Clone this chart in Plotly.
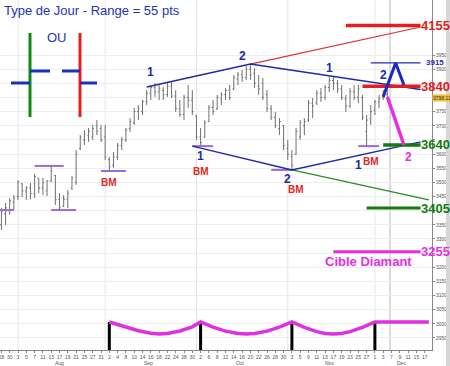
import plotly.graph_objects as go
import pandas as pd

# ---------------- data ----------------
all_dates = [d.strftime("%Y-%m-%d") for d in pd.bdate_range("2009-07-27", "2009-12-18")]
bar_dates = all_dates[1:all_dates.index("2009-12-04") + 1]

opens = [3350, 3390, 3400, 3430, 3450, 3495, 3470, 3480, 3460, 3515, 3480, 3470, 3505, 3525, 3440, 3415,
         3440, 3480, 3500, 3620, 3650, 3665, 3660, 3700, 3690, 3660, 3580, 3560, 3590, 3630, 3650, 3690,
         3710, 3750, 3750, 3785, 3815, 3835, 3820, 3825, 3810, 3840, 3805, 3760, 3740, 3800, 3790, 3735,
         3660, 3660, 3715, 3765, 3760, 3795, 3810, 3825, 3830, 3865, 3880, 3870, 3900, 3885, 3840, 3850,
         3810, 3760, 3730, 3690, 3700, 3620, 3590, 3600, 3660, 3700, 3720, 3780, 3780, 3815, 3800, 3835,
         3860, 3850, 3830, 3795, 3770, 3820, 3800, 3800, 3680, 3725, 3755, 3785, 3800, 3810]
highs = [3409, 3427, 3445, 3455, 3508, 3498, 3487, 3498, 3530, 3515, 3515, 3508, 3558, 3526, 3462, 3455,
         3473, 3522, 3614, 3667, 3685, 3692, 3703, 3720, 3703, 3703, 3590, 3607, 3639, 3660, 3692, 3727,
         3763, 3773, 3791, 3826, 3844, 3851, 3844, 3837, 3851, 3855, 3826, 3791, 3809, 3844, 3826, 3738,
         3692, 3720, 3773, 3791, 3809, 3819, 3833, 3844, 3879, 3890, 3897, 3911, 3918, 3904, 3879, 3869,
         3826, 3773, 3749, 3727, 3703, 3650, 3614, 3692, 3720, 3727, 3791, 3798, 3826, 3833, 3844, 3872,
         3876, 3862, 3844, 3809, 3833, 3844, 3844, 3809, 3738, 3773, 3791, 3809, 3826, 3844]
lows = [3332, 3349, 3385, 3402, 3438, 3448, 3438, 3441, 3445, 3462, 3455, 3452, 3501, 3420, 3402, 3413,
        3409, 3473, 3491, 3614, 3632, 3643, 3650, 3667, 3643, 3579, 3540, 3551, 3579, 3614, 3643, 3678,
        3703, 3720, 3738, 3773, 3791, 3802, 3791, 3791, 3802, 3798, 3749, 3731, 3720, 3763, 3738, 3650,
        3628, 3657, 3713, 3738, 3756, 3773, 3791, 3791, 3826, 3844, 3855, 3862, 3862, 3833, 3809, 3791,
        3749, 3720, 3692, 3667, 3614, 3579, 3544, 3597, 3650, 3667, 3713, 3727, 3773, 3784, 3791, 3819,
        3826, 3816, 3791, 3749, 3763, 3791, 3780, 3720, 3625, 3703, 3738, 3763, 3791, 3798]
closes = [3395, 3410, 3435, 3445, 3500, 3470, 3480, 3460, 3520, 3480, 3500, 3505, 3540, 3440, 3410, 3440,
          3460, 3515, 3600, 3660, 3670, 3680, 3690, 3680, 3650, 3590, 3555, 3590, 3630, 3650, 3685, 3715,
          3750, 3760, 3785, 3815, 3835, 3820, 3830, 3810, 3840, 3805, 3760, 3740, 3800, 3790, 3750, 3660,
          3640, 3710, 3765, 3750, 3800, 3810, 3825, 3800, 3870, 3880, 3870, 3900, 3880, 3850, 3830, 3800,
          3760, 3730, 3700, 3715, 3630, 3600, 3560, 3680, 3710, 3715, 3780, 3770, 3815, 3800, 3835, 3860,
          3850, 3830, 3800, 3770, 3820, 3800, 3830, 3730, 3720, 3750, 3785, 3795, 3810, 3798.11]
last_price_text = "3798.11"

# diamond figure
upper_dates = ["2009-09-15", "2009-10-20", "2009-12-16"]
upper_prices = [3837, 3918, 3828]
lower_dates = ["2009-09-30", "2009-11-03", "2009-12-16"]
lower_prices = [3628, 3544, 3643]
red_ext_dates = ["2009-10-20", "2009-12-16"]
red_ext_prices = [3918, 4049]
green_ext_dates = ["2009-11-03", "2009-12-18"]
green_ext_prices = [3544, 3438]
lambda_dates = ["2009-12-03", "2009-12-08", "2009-12-10"]
lambda_prices = [3802, 3922, 3844]
drop_dates = ["2009-12-04", "2009-12-10"]
drop_prices = [3802, 3632]

# target levels
level_texts = ["4155", "3915", "3840", "3640", "3405", "3255"]
level_prices = [4054, 3922, 3840, 3632, 3409, 3255]
level_label_prices = [4054, 3922, 3840, 3632, 3409, 3255]
level_starts = ["2009-11-20", "2009-11-30", "2009-11-26", "2009-12-03", "2009-11-27", "2009-11-17"]
level_end = "2009-12-16"
level_colors = ["#e02020", "#2a2ab8", "#e02020", "#117a11", "#117a11", "#e62ee6"]
level_widths = [3.5, 1.2, 3.5, 3.5, 3, 3]
level_font = [13, 8, 13, 13, 13, 13]

# support / resistance marks (purple)
sr_starts = ["2009-07-27", "2009-08-07", "2009-08-13", "2009-08-31", "2009-09-30", "2009-10-27", "2009-11-25"]
sr_ends = ["2009-07-31", "2009-08-18", "2009-08-21", "2009-09-08", "2009-10-07", "2009-11-04", "2009-12-02"]
sr_prices = [3402, 3558, 3402, 3540, 3628, 3544, 3628]

# labels
num_texts = ["1", "2", "1", "2", "1", "2", "1"]
num_dates = ["2009-09-16", "2009-10-16", "2009-11-16", "2009-12-03", "2009-10-02", "2009-11-02", "2009-11-25"]
num_prices = [3890, 3946, 3904, 3879, 3592, 3513, 3561]
bm_dates = ["2009-09-02", "2009-10-02", "2009-11-04", "2009-11-30"]
bm_prices = [3501, 3539, 3473, 3572]

# monthly cycle (bottom)
cycle_dates = ["2009-09-02", "2009-09-08", "2009-09-11", "2009-09-16", "2009-09-18", "2009-09-22",
               "2009-09-25", "2009-09-30", "2009-10-02",
               "2009-10-07", "2009-10-12", "2009-10-15", "2009-10-19", "2009-10-21", "2009-10-26",
               "2009-10-29", "2009-11-03",
               "2009-11-06", "2009-11-11", "2009-11-13", "2009-11-17", "2009-11-19", "2009-11-23",
               "2009-11-26", "2009-12-01", "2009-12-18"]
cycle_values = [1.0, 0.6, 0.27, 0.06, 0.0, 0.04, 0.25, 0.6, 1.0,
                0.58, 0.24, 0.04, 0.0, 0.04, 0.24, 0.58, 1.0,
                0.55, 0.2, 0.05, 0.0, 0.05, 0.2, 0.55, 1.0, 1.0]
cycle_low_dates = ["2009-09-02", "2009-10-02", "2009-11-03", "2009-12-01"]
month_starts = ["2009-08-03", "2009-09-01", "2009-10-01", "2009-11-02", "2009-12-01"]
month_names = ["Aug", "Sep", "Oct", "Nov", "Dec"]
today_date = "2009-12-07"
y_ticks = list(range(2950, 4000, 50))
y_hidden_ticks = [3250, 3400, 3650, 3800, 3850]

# ---------------- figure ----------------
idx = {d: i for i, d in enumerate(all_dates)}
W, H = 432.0, 350.0
BLUE = "#1e2aa8"
fig = go.Figure()

def line(xs, ys, color, width, yaxis="y"):
    fig.add_trace(go.Scatter(x=xs, y=ys, mode="lines", line=dict(color=color, width=width),
                             yaxis=yaxis, showlegend=False, hoverinfo="skip"))

# cycle low bars and cycle curve
bx, by = [], []
for d in cycle_low_dates:
    bx += [d, d, None]
    by += [1.0, -1.5, None]
line(bx, by, "#000000", 3, "y2")
line(cycle_dates, cycle_values, "#e030e0", 3.5, "y2")

fig.add_trace(go.Ohlc(x=bar_dates, open=opens, high=highs, low=lows, close=closes,
                      increasing=dict(line=dict(color="#707070", width=1)),
                      decreasing=dict(line=dict(color="#707070", width=1)),
                      tickwidth=0.3, showlegend=False, hoverinfo="skip"))

for s, e, p in zip(sr_starts, sr_ends, sr_prices):
    line([s, e], [p, p], "#9a6ad6", 2)

line(red_ext_dates, red_ext_prices, "#e03030", 1.2)
line(green_ext_dates, green_ext_prices, "#2a8a2a", 1.2)
line(upper_dates, upper_prices, BLUE, 1.5)
line(lower_dates, lower_prices, BLUE, 1.5)

for t, p, s, c, w in zip(level_texts, level_prices, level_starts, level_colors, level_widths):
    line([s, level_end], [p, p], c, w)

line(lambda_dates, lambda_prices, "#1a2ac0", 3)
line(drop_dates, drop_prices, "#e62ee6", 3.5)

ann = []
FONT = "Liberation Sans, Arial, sans-serif"
for t, p, c, fs in zip(level_texts, level_label_prices, level_colors, level_font):
    ann.append(dict(xref="paper", yref="y", x=435 / W, y=p, text="<b>%s</b>" % t, showarrow=False,
                    xanchor="center", yanchor="middle", borderpad=0,
                    font=dict(family=FONT, size=fs, color=c)))
ann.append(dict(xref="x", yref="y", x=(idx["2009-11-20"] + idx["2009-12-07"]) / 2, y=3222,
                text="<b>Cible Diamant</b>", showarrow=False, xanchor="center",
                font=dict(family=FONT, size=13, color="#e62ee6")))
for t, d, p in zip(num_texts, num_dates, num_prices):
    ann.append(dict(xref="x", yref="y", x=idx[d], y=p, text="<b>%s</b>" % t, showarrow=False,
                    xanchor="center", borderpad=0, font=dict(family=FONT, size=12, color=BLUE)))
ann.append(dict(xref="x", yref="y", x=idx["2009-12-11"], y=3591, text="<b>2</b>", showarrow=False,
                xanchor="center", font=dict(family=FONT, size=12, color="#e62ee6")))
for d, p in zip(bm_dates, bm_prices):
    ann.append(dict(xref="x", yref="y", x=idx[d], y=p, text="<b>BM</b>", showarrow=False,
                    xanchor="center", borderpad=0, font=dict(family=FONT, size=10, color="#e02828")))
ann.append(dict(xref="paper", yref="paper", x=3 / W, y=1 - 10 / H, text="Type de Jour - Range = 55 pts",
                showarrow=False, xanchor="left", yanchor="middle", borderpad=0,
                font=dict(family=FONT, size=13, color="#2233bb")))
ann.append(dict(xref="paper", yref="paper", x=57 / W, y=1 - 37 / H, text="OU", showarrow=False,
                xanchor="center", yanchor="middle",
                font=dict(family=FONT, size=13, color="#2233bb")))
ann.append(dict(xref="paper", yref="y", x=1.0, y=closes[-1], text=last_price_text, showarrow=False,
                xanchor="left", yanchor="middle", bgcolor="#f0c030", borderpad=0,
                font=dict(family=FONT, size=5, color="#333")))
# month labels
vis = all_dates[1:]
for m, name in zip(["2009-08", "2009-09", "2009-10", "2009-11", "2009-12"], month_names):
    ks = [idx[d] for d in vis if d.startswith(m)]
    ann.append(dict(xref="x", yref="paper", x=sum(ks) / len(ks), y=1 - 362.5 / H, text=name,
                    showarrow=False, xanchor="center", yanchor="middle", borderpad=0,
                    font=dict(family=FONT, size=5, color="#555")))

shapes = []
for d in month_starts:
    shapes.append(dict(type="line", xref="x", yref="paper", x0=idx[d], x1=idx[d], y0=0, y1=1,
                       line=dict(color="#e6e6e6", width=1), layer="below"))
shapes.append(dict(type="line", xref="x", yref="paper", x0=idx[today_date] - 0.35, x1=idx[today_date] - 0.35,
                   y0=0, y1=1, line=dict(color="#b8b8b8", width=1), layer="below"))
# legend glyphs top-left
def pline(x0, y0, x1, y1, c):
    shapes.append(dict(type="line", xref="paper", yref="paper", x0=x0 / W, x1=x1 / W,
                       y0=1 - y0 / H, y1=1 - y1 / H, line=dict(color=c, width=3)))
pline(30, 33, 30, 117, "#118a11")
pline(80, 33, 80, 117, "#e02020")
pline(11, 83, 30, 83, "#1a30c0")
pline(30, 71, 50, 71, "#1a30c0")
pline(62, 71, 80, 71, "#1a30c0")
pline(80, 83, 97, 83, "#1a30c0")
shapes.append(dict(type="rect", xref="paper", yref="paper", x0=446 / W, x1=460 / W, y0=-0.1, y1=1.05,
                   fillcolor="#d6d6d6", line=dict(width=0)))

fig.update_layout(
    width=450, height=366, autosize=False,
    margin=dict(l=0, r=18, t=0, b=16, pad=0),
    paper_bgcolor="white", plot_bgcolor="white",
    template="none", showlegend=False,
    annotations=ann, shapes=shapes,
    xaxis=dict(type="category", categoryorder="array", categoryarray=all_dates,
               range=[0.66, 104.76], tickmode="array", tickvals=all_dates[1::2],
               ticktext=[str(int(d[8:])) for d in all_dates[1::2]],
               tickfont=dict(family=FONT, size=5, color="#555"), ticks="outside", ticklen=2,
               tickcolor="#888", showgrid=False, showline=True, linecolor="#888", linewidth=1,
               zeroline=False, rangeslider=dict(visible=False), automargin=False),
    yaxis=dict(range=[2907.5, 4144.4], side="right", tickmode="array",
               tickvals=y_ticks,
               ticktext=["" if v in y_hidden_ticks else str(v) for v in y_ticks],
               tickfont=dict(family=FONT, size=5, color="#555"), ticks="outside", ticklen=2,
               tickcolor="#888", showgrid=True, gridcolor="#eeeeee", gridwidth=1,
               showline=True, linecolor="#888", linewidth=1, zeroline=False, automargin=False),
    yaxis2=dict(overlaying="y", range=[-1.333, 27.83], visible=False, fixedrange=True),
)

fig.write_html("out.html")
